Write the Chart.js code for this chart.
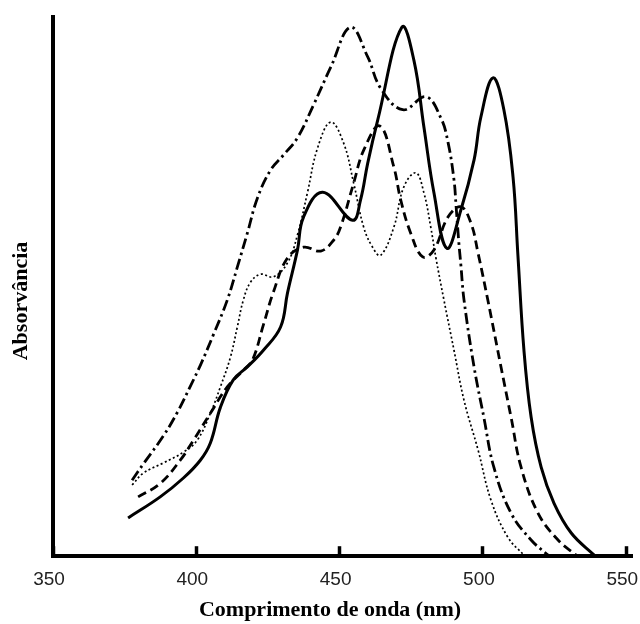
<!DOCTYPE html>
<html lang="pt">
<head>
<meta charset="utf-8">
<title>Absorvância</title>
<script src="https://cdn.jsdelivr.net/npm/chart.js"></script>
<style>
  html, body { margin: 0; padding: 0; background: #fff; }
  #wrap { width: 640px; height: 624px; }
</style>
</head>
<body>
<div id="wrap"><canvas id="spectra" width="640" height="624"></canvas></div>
<script>
// wavelength (nm) / absorbance (a.u.) for each spectrum
const wlSolid  = [376.2, 387.4, 395.5, 401.4, 404.9, 408.4, 412.9, 417.8, 423.4, 429.4, 431.8, 435.3, 437.4, 444.1, 454.5, 457.3, 459.8, 463.3, 471.7, 475.9, 479.4, 482.9, 487.4, 492.3, 496.9, 499.3, 503.5, 507.3, 510.5, 512.2, 514.3, 516.8, 520.3, 524.8, 530.8, 538.8];
const absSolid = [7.1, 11.0, 14.5, 17.8, 21.0, 27.6, 32.7, 35.1, 38.2, 42.5, 48.8, 56.8, 62.9, 67.5, 62.3, 66.1, 72.9, 80.9, 98.1, 92.0, 79.6, 67.4, 57.1, 64.2, 73.5, 81.5, 88.7, 82.8, 70.3, 55.8, 38.2, 25.8, 16.5, 9.8, 4.3, 0.2];

const wlDashed  = [379.7, 387.4, 394.4, 399.0, 404.9, 410.8, 416.4, 419.6, 423.4, 426.9, 431.8, 437.4, 443.4, 447.9, 450.3, 454.9, 458.4, 464.0, 468.9, 471.3, 474.8, 479.0, 482.9, 487.8, 492.3, 495.8, 498.3, 501.7, 506.3, 509.8, 513.3, 519.2, 526.2, 532.5];
const absDashed = [11.0, 13.5, 17.8, 21.5, 26.5, 31.4, 34.5, 36.4, 42.9, 49.0, 55.3, 57.3, 56.6, 58.6, 61.0, 69.2, 75.3, 79.8, 72.2, 66.1, 59.9, 55.5, 56.8, 62.9, 64.8, 61.8, 56.2, 47.5, 35.1, 25.8, 16.5, 8.0, 3.0, 0.2];

const wlDashDot  = [377.6, 381.5, 388.5, 393.4, 397.9, 401.4, 405.9, 410.8, 414.3, 417.8, 421.3, 425.9, 430.4, 435.3, 440.9, 446.9, 453.8, 459.8, 464.3, 472.0, 480.1, 485.3, 487.8, 489.9, 490.6, 491.6, 492.3, 493.4, 496.9, 500.3, 503.8, 509.8, 516.8, 522.7];
const absDashDot = [14.1, 17.1, 22.3, 26.7, 31.5, 35.4, 41.0, 47.5, 53.6, 59.9, 66.4, 71.6, 74.4, 77.6, 83.7, 90.7, 98.1, 92.6, 86.8, 82.8, 85.2, 81.3, 76.8, 69.8, 65.1, 58.1, 54.0, 47.5, 35.1, 25.8, 16.5, 8.0, 3.0, 0.2];

const wlDotted  = [377.6, 381.5, 388.5, 395.5, 400.3, 404.9, 408.4, 411.9, 414.3, 416.4, 418.9, 422.4, 426.9, 431.8, 435.3, 438.8, 442.3, 446.9, 451.4, 454.9, 458.4, 461.5, 464.3, 468.9, 472.4, 476.6, 479.4, 481.8, 483.6, 486.4, 489.9, 493.4, 498.3, 502.8, 508.7, 514.3];
const absDotted = [13.2, 15.4, 17.3, 19.3, 21.5, 26.5, 31.4, 36.9, 42.5, 47.5, 50.8, 52.3, 51.8, 54.4, 59.6, 67.5, 75.7, 80.5, 76.6, 69.2, 61.0, 57.3, 55.8, 61.0, 68.5, 71.1, 67.4, 61.0, 55.3, 47.5, 38.2, 28.9, 19.7, 10.4, 3.5, 0.2];

const xTicks = [350, 400, 450, 500, 550];
const xTitle = "Comprimento de onda (nm)";
const yTitle = "Absorvância";

const toPoints = (xs, ys) => xs.map((x, i) => ({ x: x, y: ys[i] }));

function spectrum(xs, ys, width, dash) {
  return {
    data: toPoints(xs, ys),
    borderColor: "#000",
    borderWidth: width,
    borderDash: dash,
    pointRadius: 0,
    fill: false,
    tension: 0.4
  };
}

// axis titles are placed by hand, slightly off the plot centre
const axisTitles = {
  id: "axisTitles",
  afterDraw(chart) {
    const ctx = chart.ctx;
    ctx.save();
    ctx.fillStyle = "#000";
    ctx.font = 'bold 22px "Liberation Serif", "Times New Roman", serif';
    ctx.textAlign = "center";
    ctx.textBaseline = "alphabetic";
    ctx.fillText(xTitle, 330, 616);
    ctx.translate(21, 301);
    ctx.rotate(-Math.PI / 2);
    ctx.textBaseline = "middle";
    ctx.fillText(yTitle, 0, 0);
    ctx.restore();
  }
};

new Chart(document.getElementById("spectra"), {
  type: "line",
  data: {
    datasets: [
      spectrum(wlSolid, absSolid, 3, []),
      spectrum(wlDashed, absDashed, 2.8, [9, 5]),
      spectrum(wlDashDot, absDashDot, 2.8, [11, 4, 2.5, 4]),
      spectrum(wlDotted, absDotted, 1.7, [2, 2.5])
    ]
  },
  options: {
    responsive: false,
    devicePixelRatio: 1,
    animation: false,
    layout: { padding: { left: 53, right: 8, top: 17, bottom: 11 } },
    plugins: {
      legend: { display: false },
      tooltip: { enabled: false }
    },
    scales: {
      x: {
        type: "linear",
        min: 350,
        max: 552,
        afterBuildTicks: (scale) => { scale.ticks = xTicks.map(v => ({ value: v })); },
        afterFit: (scale) => { scale.paddingRight = 0; },
        border: { display: true, color: "#000", width: 4 },
        grid: {
          display: true,
          drawOnChartArea: false,
          drawTicks: true,
          tickLength: -10,
          tickWidth: 3.5,
          tickColor: "#000"
        },
        ticks: {
          color: "#222",
          padding: 22,
          labelOffset: -4,
          maxRotation: 0,
          autoSkip: false,
          font: { family: '"Liberation Sans", Arial, sans-serif', size: 19 }
        }
      },
      y: {
        min: 0,
        max: 100,
        border: { display: true, color: "#000", width: 4 },
        grid: { display: false, drawTicks: false },
        ticks: { display: false }
      }
    }
  },
  plugins: [axisTitles]
});
</script>
</body>
</html>
